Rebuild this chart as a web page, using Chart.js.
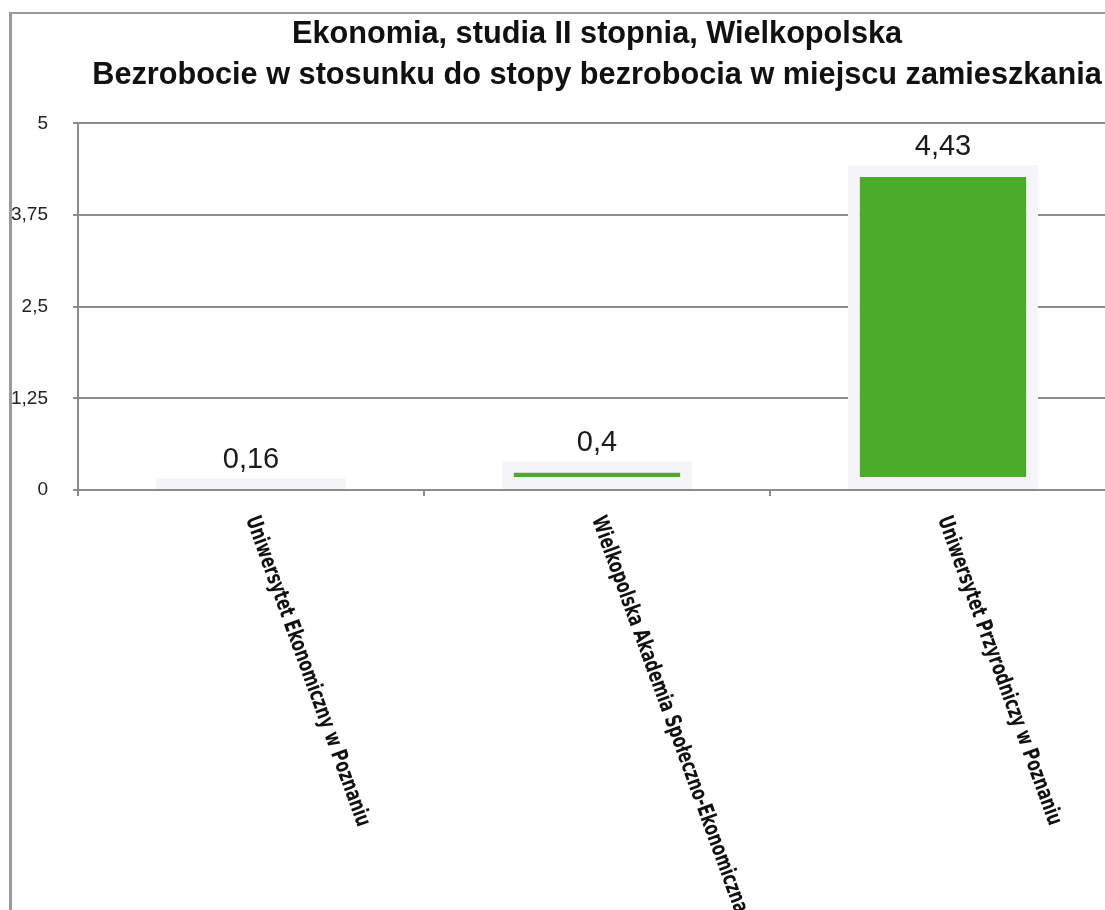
<!DOCTYPE html>
<html>
<head>
<meta charset="utf-8">
<script src="https://cdn.jsdelivr.net/npm/chart.js@4.4.1/dist/chart.umd.min.js"></script>
<style>
    html, body { margin: 0; padding: 0; background: #fff; overflow: hidden; }
    #wrap { position: relative; width: 1105px; height: 910px; overflow: hidden; }
    #chart { position: absolute; left: 0; top: 0; }
    #frame {
        position: absolute; left: 9px; top: 12px; width: 1300px; height: 1000px;
        border-left: 3px solid #9a9a9a; border-top: 2px solid #9a9a9a; pointer-events: none;
    }
</style>
</head>
<body>
<div id="wrap">
    <canvas id="chart" width="1130" height="910"></canvas>
    <div id="frame"></div>
</div>
<script>
// Chart data
const TITLE_LINES = [
    'Ekonomia, studia II stopnia, Wielkopolska',
    'Bezrobocie w stosunku do stopy bezrobocia w miejscu zamieszkania'
];
const UNIVERSITIES = [
    'Uniwersytet Ekonomiczny w Poznaniu',
    'Wielkopolska Akademia Społeczno-Ekonomiczna',
    'Uniwersytet Przyrodniczy w Poznaniu'
];
const RATIO_VALUES = [0.16, 0.4, 4.43];
const Y_TICKS = [0, 1.25, 2.5, 3.75, 5];

const GRID_GREY = '#8c8c8c';
const fmtComma = v => String(v).replace('.', ',');

// Value labels above the bars
const valueLabels = {
    id: 'valueLabels',
    afterDatasetsDraw(chart) {
        const ctx = chart.ctx;
        const meta = chart.getDatasetMeta(0);
        ctx.save();
        ctx.fillStyle = '#1a1a1a';
        ctx.font = "29px 'Liberation Sans', Arial, sans-serif";
        ctx.textAlign = 'center';
        ctx.textBaseline = 'alphabetic';
        meta.data.forEach((bar, i) => {
            ctx.fillText(fmtComma(RATIO_VALUES[i]), bar.x, bar.y - 10);
        });
        ctx.restore();
    }
};

// Slanted category labels (reading downwards), squeezed to look condensed
const slantedLabels = {
    id: 'slantedLabels',
    afterDraw(chart) {
        const ctx = chart.ctx;
        const xs = chart.scales.x;
        ctx.save();
        ctx.fillStyle = '#111';
        ctx.font = "bold 22px 'DejaVu Sans Condensed', 'Liberation Sans Narrow', sans-serif";
        ctx.textAlign = 'left';
        ctx.textBaseline = 'middle';
        UNIVERSITIES.forEach((name, i) => {
            ctx.save();
            ctx.translate(xs.getPixelForValue(i), xs.top + 27);
            ctx.rotate(70 * Math.PI / 180);
            ctx.scale(0.78, 1);
            ctx.fillText(name, 0, 0);
            ctx.restore();
        });
        ctx.restore();
    }
};

new Chart(document.getElementById('chart'), {
    type: 'bar',
    data: {
        labels: UNIVERSITIES,
        datasets: [{
            data: RATIO_VALUES,
            backgroundColor: '#4dab2c',
            borderColor: '#f5f5f7',
            borderWidth: 12,
            borderSkipped: false,
            barPercentage: 0.55,
            categoryPercentage: 1
        }]
    },
    options: {
        responsive: false,
        animation: false,
        layout: { padding: { left: 0, right: 14, top: 0, bottom: 0 } },
        plugins: {
            legend: { display: false },
            tooltip: { enabled: false },
            title: {
                display: true,
                fullSize: false,
                text: TITLE_LINES,
                color: '#111',
                font: { family: "'Liberation Sans', Arial, sans-serif", size: 30.7, weight: 'bold', lineHeight: 1.34 },
                padding: { top: 14, bottom: 27 }
            }
        },
        scales: {
            x: {
                offset: true,
                grid: {
                    offset: true,
                    drawOnChartArea: false,
                    drawTicks: true,
                    tickLength: 6,
                    color: GRID_GREY,
                    lineWidth: 2
                },
                border: { color: GRID_GREY, width: 2 },
                ticks: { display: false },
                afterFit: s => { s.height = 420; }
            },
            y: {
                min: 0,
                max: 5,
                afterBuildTicks: axis => { axis.ticks = Y_TICKS.map(v => ({ value: v })); },
                grid: { color: GRID_GREY, lineWidth: 2, tickLength: 5 },
                border: { color: GRID_GREY, width: 2 },
                ticks: {
                    padding: 25,
                    color: '#222',
                    font: { family: "'Liberation Sans', Arial, sans-serif", size: 19 },
                    callback: v => fmtComma(v)
                },
                afterFit: s => { s.width = 78; }
            }
        }
    },
    plugins: [valueLabels, slantedLabels]
});
</script>
</body>
</html>
